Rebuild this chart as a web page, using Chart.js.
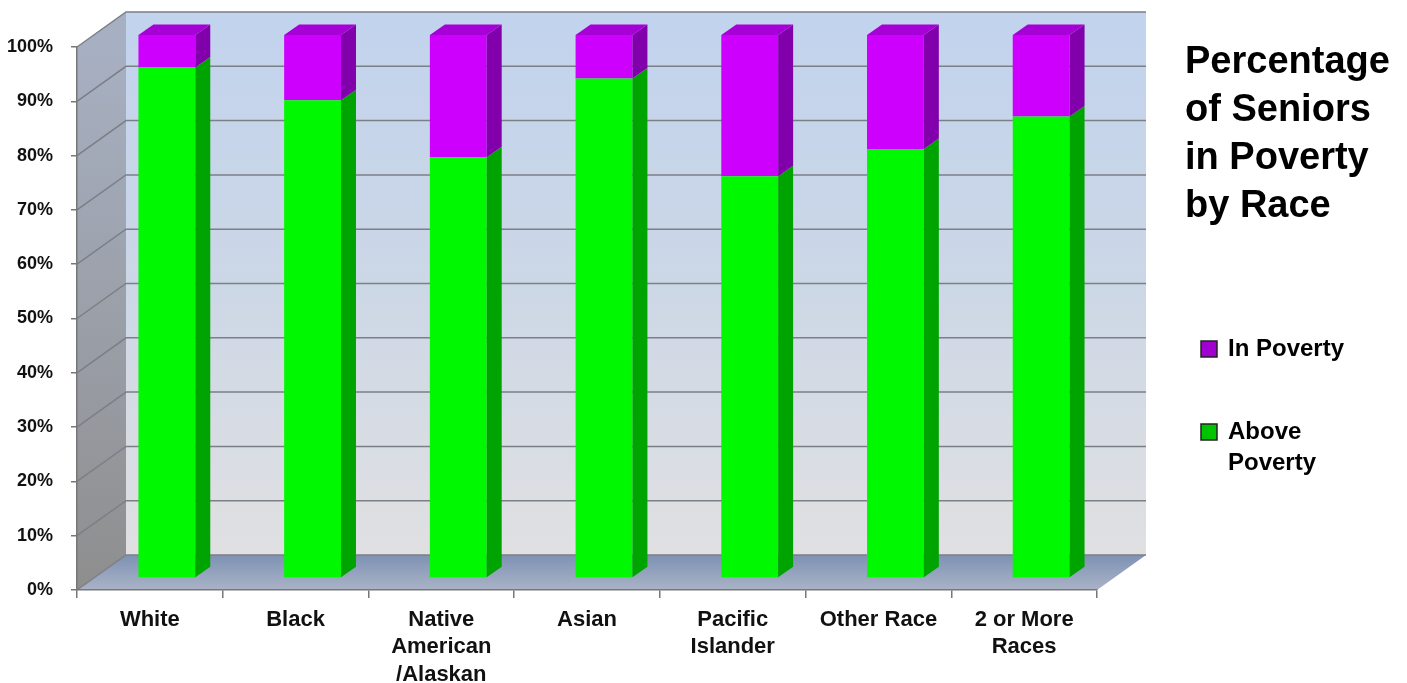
<!DOCTYPE html>
<html>
<head>
<meta charset="utf-8">
<title>Percentage of Seniors in Poverty by Race</title>
<script src="https://cdn.jsdelivr.net/npm/chart.js@4.4.0/dist/chart.umd.min.js"></script>
<style>
  body { margin: 0; background: #fff; }
</style>
</head>
<body>
<canvas id="myChart" width="1407" height="683"></canvas>
<script>
// chart data
const races = ["White", "Black", ["Native", "American", "/Alaskan"], "Asian", ["Pacific", "Islander"], "Other Race", ["2 or More", "Races"]];
const above_poverty = [94, 88, 77.5, 92, 74, 79, 85];
const in_poverty = [6, 12, 22.5, 8, 26, 21, 15];
const title_lines = ["Percentage", "of Seniors", "in Poverty", "by Race"];

const FONT = "'Liberation Sans', Arial, sans-serif";

// depth of the walls / floor and of the bars
const WALL_DX = 49, WALL_DY = 35;
const BAR_DX = 17, BAR_DY = 12;
const SIDE_DX = 15, SIDE_DY = 10.5;

function poly(ctx, pts) {
    ctx.beginPath();
    ctx.moveTo(pts[0][0], pts[0][1]);
    for (let i = 1; i < pts.length; i++) ctx.lineTo(pts[i][0], pts[i][1]);
    ctx.closePath();
    ctx.fill();
}

// back wall, side wall, floor and gridlines drawn behind everything
const wallsPlugin = {
    id: 'walls',
    beforeDraw(chart) {
        const ctx = chart.ctx, a = chart.chartArea, y = chart.scales.y;
        const L = a.left, R = a.right, T = a.top, B = a.bottom;
        ctx.save();
        // back wall
        let g = ctx.createLinearGradient(0, T - WALL_DY, 0, B - WALL_DY);
        g.addColorStop(0, '#c2d3ee');
        g.addColorStop(0.5, '#ccd7e6');
        g.addColorStop(1, '#e0e0e2');
        ctx.fillStyle = g;
        ctx.fillRect(L + WALL_DX, T - WALL_DY, R - L, B - T);
        // side wall
        g = ctx.createLinearGradient(0, T, 0, B);
        g.addColorStop(0, '#a7b0c2');
        g.addColorStop(1, '#8e8e8e');
        ctx.fillStyle = g;
        poly(ctx, [[L, T], [L + WALL_DX, T - WALL_DY], [L + WALL_DX, B - WALL_DY], [L, B]]);
        // floor
        g = ctx.createLinearGradient(0, B - WALL_DY, 0, B);
        g.addColorStop(0, '#7e92b4');
        g.addColorStop(1, '#aab3c6');
        ctx.fillStyle = g;
        poly(ctx, [[L, B], [L + WALL_DX, B - WALL_DY], [R + WALL_DX, B - WALL_DY], [R, B]]);
        // gridlines on side + back wall
        ctx.strokeStyle = '#7c7f86';
        ctx.lineWidth = 1.5;
        y.ticks.forEach(t => {
            const py = y.getPixelForValue(t.value);
            ctx.beginPath();
            ctx.moveTo(L, py);
            ctx.lineTo(L + WALL_DX, py - WALL_DY);
            ctx.lineTo(R + WALL_DX, py - WALL_DY);
            ctx.stroke();
        });
        ctx.restore();
    },
    beforeDatasetsDraw(chart) {
        chart.ctx.save();
        chart.ctx.translate(BAR_DX, -BAR_DY);
    },
    afterDatasetsDraw(chart) {
        const ctx = chart.ctx;
        const last = chart.data.datasets.length - 1;
        chart.data.datasets.forEach((ds, i) => {
            chart.getDatasetMeta(i).data.forEach(bar => {
                const p = bar.getProps(['x', 'y', 'base', 'width'], true);
                const l = p.x - p.width / 2, r = p.x + p.width / 2;
                ctx.fillStyle = ds.sideColor;
                poly(ctx, [[r, p.y], [r + SIDE_DX, p.y - SIDE_DY], [r + SIDE_DX, p.base - SIDE_DY], [r, p.base]]);
                if (i === last) {
                    ctx.fillStyle = ds.topColor;
                    poly(ctx, [[l, p.y], [l + SIDE_DX, p.y - SIDE_DY], [r + SIDE_DX, p.y - SIDE_DY], [r, p.y]]);
                }
            });
        });
        ctx.restore();
    }
};

// title and legend on the right
const sidePlugin = {
    id: 'side',
    afterDraw(chart) {
        const ctx = chart.ctx;
        ctx.save();
        ctx.fillStyle = '#000';
        ctx.textBaseline = 'middle';
        ctx.textAlign = 'left';
        ctx.font = 'bold 38px ' + FONT;
        title_lines.forEach((t, i) => ctx.fillText(t, 1185, 63 + i * 48));

        ctx.font = 'bold 24px ' + FONT;
        const items = chart.data.datasets.slice().reverse();
        const tops = [349, 432];
        items.forEach((ds, i) => {
            const yy = tops[i];
            ctx.fillStyle = ds.legendColor;
            ctx.fillRect(1201, yy - 8, 16, 16);
            ctx.strokeStyle = '#222';
            ctx.lineWidth = 1.5;
            ctx.strokeRect(1201, yy - 8, 16, 16);
            // word wrap
            const words = ds.label.split(' ');
            let lines = [], cur = '';
            words.forEach(w => {
                const test = cur ? cur + ' ' + w : w;
                if (ctx.measureText(test).width > 130 && cur) { lines.push(cur); cur = w; }
                else cur = test;
            });
            lines.push(cur);
            ctx.fillStyle = '#000';
            lines.forEach((ln, k) => ctx.fillText(ln, 1228, yy + k * 31));
        });
        ctx.restore();
    }
};

var ctx = document.getElementById('myChart').getContext('2d');

new Chart(ctx, {
    type: 'bar',
    data: {
        labels: races,
        datasets: [
            {
                label: 'Above Poverty',
                data: above_poverty,
                backgroundColor: '#00f800',
                sideColor: '#00a400',
                topColor: '#00c800',
                legendColor: '#00c400',
                borderWidth: 0
            },
            {
                label: 'In Poverty',
                data: in_poverty,
                backgroundColor: '#cc00fc',
                sideColor: '#8200ac',
                topColor: '#a600d6',
                legendColor: '#a000d0',
                borderWidth: 0
            }
        ]
    },
    options: {
        responsive: false,
        animation: false,
        barPercentage: 0.39,
        categoryPercentage: 1,
        layout: { padding: { top: 47, right: 310, bottom: 0, left: 0 } },
        plugins: {
            legend: { display: false },
            title: { display: false },
            tooltip: { enabled: false }
        },
        scales: {
            x: {
                stacked: true,
                offset: true,
                afterFit: s => { s.height = 93; },
                grid: { drawOnChartArea: false, offset: true, tickLength: 8, color: '#777', lineWidth: 1.5 },
                border: { color: '#777', width: 1.5 },
                ticks: {
                    color: '#111',
                    padding: 8,
                    maxRotation: 0,
                    autoSkip: false,
                    font: { family: FONT, size: 22, weight: 'bold', lineHeight: 1.25 }
                }
            },
            y: {
                stacked: true,
                min: 0,
                max: 100,
                afterFit: s => { s.width = 77; },
                grid: { drawOnChartArea: false, tickLength: 6, color: '#777', lineWidth: 1.5 },
                border: { color: '#777', width: 1.5 },
                ticks: {
                    stepSize: 10,
                    color: '#111',
                    padding: 18,
                    callback: v => v + '%',
                    font: { family: FONT, size: 18, weight: 'bold' }
                }
            }
        }
    },
    plugins: [wallsPlugin, sidePlugin]
});
</script>
</body>
</html>
